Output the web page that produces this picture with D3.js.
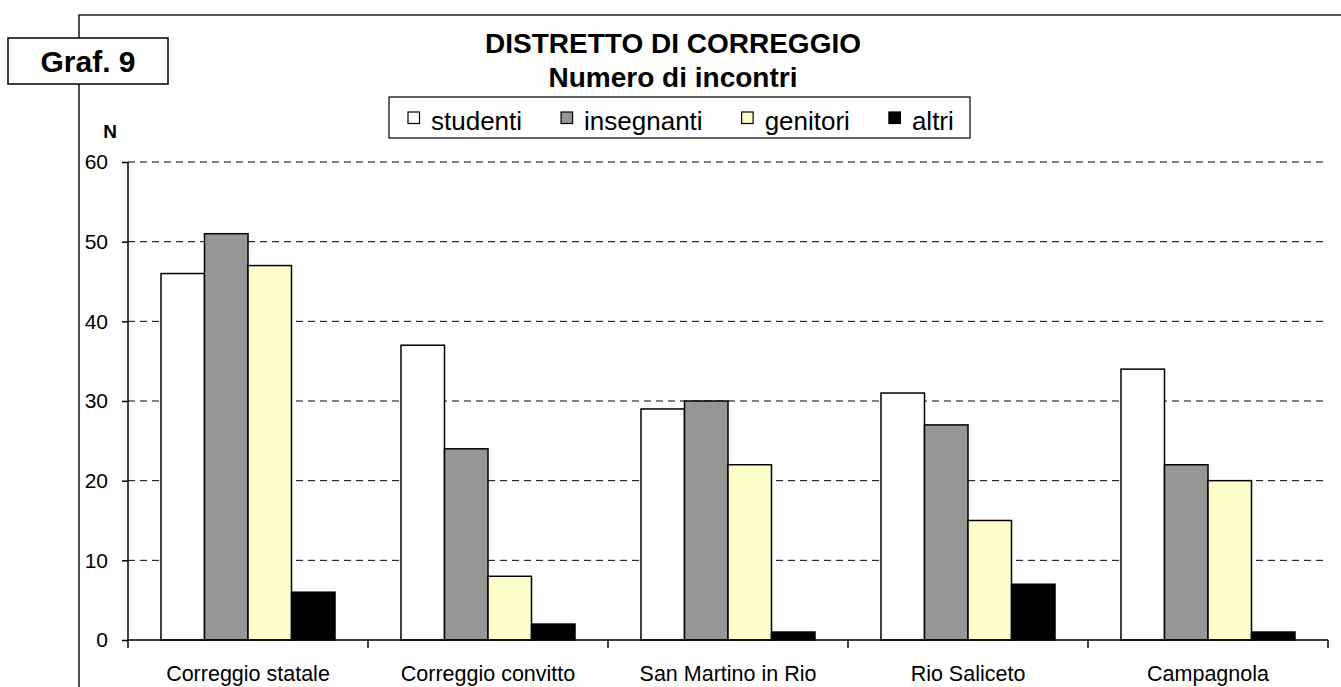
<!DOCTYPE html>
<html><head><meta charset="utf-8">
<script src="https://cdnjs.cloudflare.com/ajax/libs/d3/7.8.5/d3.min.js"></script>
<style>
html,body{margin:0;padding:0;background:#fff;}
svg{display:block;font-family:Arial,"Liberation Sans",sans-serif;}
</style></head>
<body>
<script>
const categories = ["Correggio statale","Correggio convitto","San Martino in Rio","Rio Saliceto","Campagnola"];
const seriesNames = ["studenti","insegnanti","genitori","altri"];
const studenti   = [46, 37, 29, 31, 34];
const insegnanti = [51, 24, 30, 27, 22];
const genitori   = [47, 8, 22, 15, 20];
const altri      = [6, 2, 1, 7, 1];
const yTicks = [0,10,20,30,40,50,60];
const titleLines = ["DISTRETTO DI CORREGGIO","Numero di incontri"];
const grafLabel = "Graf. 9";
const yLabel = "N";

const seriesValues = [studenti, insegnanti, genitori, altri];
const colors = ["#ffffff","#969696","#ffffcc","#000000"];

const W = 1341, H = 687;
const svg = d3.select("body").append("svg").attr("width", W).attr("height", H);

// outer frame
svg.append("path").attr("d", `M79,${H+2} L79,15 L${W+2},15`)
  .attr("fill","none").attr("stroke","#222").attr("stroke-width",1.6);

// Graf box
svg.append("rect").attr("x",8).attr("y",38).attr("width",160).attr("height",46)
  .attr("fill","#fff").attr("stroke","#000").attr("stroke-width",1.5);
svg.append("text").attr("x",88).attr("y",72).attr("text-anchor","middle")
  .attr("font-weight","bold").attr("font-size",30).text(grafLabel);

// title
svg.selectAll("text.title").data(titleLines).enter().append("text")
  .attr("class","title").attr("x",673).attr("y",(d,i)=>53+i*34)
  .attr("text-anchor","middle").attr("font-weight","bold").attr("font-size",28)
  .text(d=>d);

// scales
const x0 = d3.scaleBand().domain(categories).range([128,1328]).padding(0);
const x1 = d3.scaleBand().domain(seriesNames).range([33,207]).padding(0);
const y = d3.scaleLinear().domain([0,60]).range([640,162]);

// gridlines
svg.append("g").selectAll("line").data(yTicks.filter(t=>t>0)).enter().append("line")
  .attr("x1",128).attr("x2",1328).attr("y1",d=>y(d)).attr("y2",d=>y(d))
  .attr("stroke","#000").attr("stroke-width",1).attr("stroke-dasharray","7,5");

// bars
const g = svg.append("g");
categories.forEach((c,ci)=>{
  seriesNames.forEach((s,si)=>{
    const v = seriesValues[si][ci];
    g.append("rect")
      .attr("x", x0(c)+x1(s)).attr("width", x1.bandwidth())
      .attr("y", y(v)).attr("height", y(0)-y(v))
      .attr("fill", colors[si]).attr("stroke","#000").attr("stroke-width",1.5);
  });
});

// y axis
const yAxis = d3.axisLeft(y).tickValues(yTicks).tickSize(6).tickPadding(14).tickFormat(d3.format("d"));
const ya = svg.append("g").attr("transform","translate(128,0)").call(yAxis);
ya.select(".domain").attr("stroke","#000").attr("stroke-width",1.5).attr("d","M0,162V640");
ya.selectAll(".tick line").attr("stroke","#000").attr("stroke-width",1.5);
ya.selectAll("text").attr("font-size",21).attr("font-family","Arial,'Liberation Sans',sans-serif").attr("fill","#000");

// x axis
const xa = svg.append("g").attr("transform","translate(0,640)");
xa.append("line").attr("x1",128).attr("x2",1328).attr("y1",0).attr("y2",0)
  .attr("stroke","#000").attr("stroke-width",1.5);
const bounds = categories.map(c=>x0(c)).concat([x0.range()[1]]);
xa.selectAll("line.tk").data(bounds).enter().append("line").attr("class","tk")
  .attr("x1",d=>d).attr("x2",d=>d).attr("y1",0).attr("y2",8)
  .attr("stroke","#000").attr("stroke-width",1.5);
xa.selectAll("text").data(categories).enter().append("text")
  .attr("x",d=>x0(d)+x0.bandwidth()/2).attr("y",41).attr("text-anchor","middle")
  .attr("font-size",21.5).text(d=>d);

// N label
svg.append("text").attr("x",110).attr("y",138).attr("text-anchor","middle")
  .attr("font-weight","bold").attr("font-size",19).text(yLabel);

// legend
const lg = svg.append("g");
lg.append("rect").attr("x",389).attr("y",97).attr("width",581).attr("height",41)
  .attr("fill","#fff").attr("stroke","#000").attr("stroke-width",1.2);
let lx = 408;
seriesNames.forEach((s,i)=>{
  lg.append("rect").attr("x",lx).attr("y",112).attr("width",11.5).attr("height",11.5)
    .attr("fill",colors[i]).attr("stroke","#000").attr("stroke-width",1.2);
  const t = lg.append("text").attr("x",lx+23).attr("y",130).attr("font-size",26).text(s);
  const w = t.node().getComputedTextLength();
  lx = lx + 23 + w + 39;
});
</script>
</body></html>
